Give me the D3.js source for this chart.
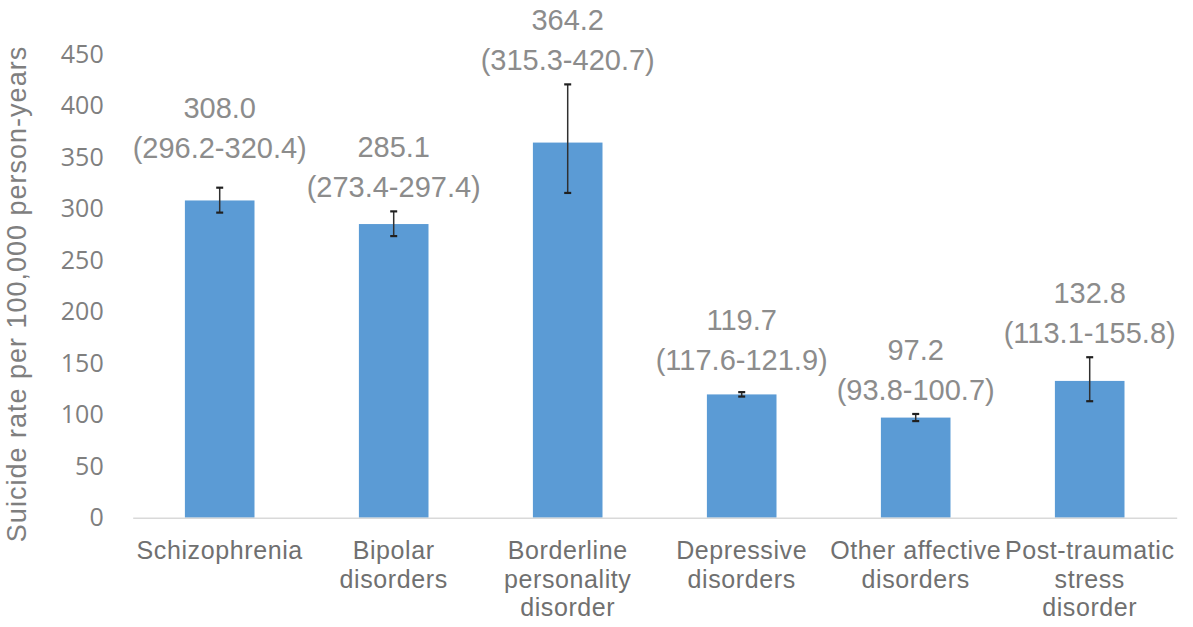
<!DOCTYPE html>
<html>
<head>
<meta charset="utf-8">
<script src="https://cdn.jsdelivr.net/npm/d3@7"></script>
<style>
body { margin:0; background:#fff; }
</style>
</head>
<body>
<div id="chart"></div>
<script>
// Data
const categories = ["Schizophrenia", "Bipolar disorders", "Borderline personality disorder",
  "Depressive disorders", "Other affective disorders", "Post-traumatic stress disorder"];
const categoryLines = [
  ["Schizophrenia"],
  ["Bipolar", "disorders"],
  ["Borderline", "personality", "disorder"],
  ["Depressive", "disorders"],
  ["Other affective", "disorders"],
  ["Post-traumatic", "stress", "disorder"]
];
const rates = [308.0, 285.1, 364.2, 119.7, 97.2, 132.8];
const ciLow = [296.2, 273.4, 315.3, 117.6, 93.8, 113.1];
const ciHigh = [320.4, 297.4, 420.7, 121.9, 100.7, 155.8];
const yTicks = [0, 50, 100, 150, 200, 250, 300, 350, 400, 450];

// labels were dragged by hand in the original, small nudges (px)
const labelNudge = [16, 0, 0, 8, 0, 0];

// Chart size
const W = 1193, H = 627;
const margin = {top:54.2, right:16.3, bottom:109.3, left:132.7};
const width = W - margin.left - margin.right;
const height = H - margin.top - margin.bottom;

const rows = categories.map((c, i) => ({
  cat: c, lines: categoryLines[i], v: rates[i], lo: ciLow[i], hi: ciHigh[i], nudge: labelNudge[i]
}));

const svg = d3.select("#chart").append("svg")
  .attr("width", W).attr("height", H);

const g = svg.append("g")
  .attr("transform", `translate(${margin.left},${margin.top})`);

// X scale
const x = d3.scaleBand()
  .domain(categories)
  .range([0, width])
  .paddingInner(0.6)
  .paddingOuter(0.3);

// Y scale
const y = d3.scaleLinear()
  .domain([0, 450])
  .range([height, 0]);

// Y axis (labels only)
const yAx = g.append("g")
  .call(d3.axisLeft(y).tickValues(yTicks).tickSize(0).tickPadding(29));
yAx.select(".domain").remove();
yAx.selectAll("text")
  .attr("font-family", "'Open Sans', sans-serif")
  .attr("font-size", 25)
  .attr("fill", "#7f7f7f");

// Bars
g.selectAll(".bar")
  .data(rows)
  .enter()
  .append("rect")
  .attr("class", "bar")
  .attr("x", d => x(d.cat))
  .attr("y", d => y(d.v))
  .attr("width", x.bandwidth())
  .attr("height", d => height - y(d.v))
  .attr("fill", "#5b9bd5");

// X axis
const xAx = g.append("g")
  .attr("transform", `translate(0,${height})`)
  .call(d3.axisBottom(x).tickSize(0).tickPadding(0));
xAx.select(".domain")
  .attr("stroke", "#d9d9d9")
  .attr("stroke-width", 1.5);
xAx.selectAll(".tick text").each(function(d, i) {
  const t = d3.select(this);
  t.text(null)
    .attr("y", 0)
    .attr("dy", null)
    .attr("font-family", "'Liberation Sans', Arial, sans-serif")
    .attr("font-size", 25)
    .attr("letter-spacing", 0.6)
    .attr("fill", "#707070");
  categoryLines[i].forEach((ln, k) => {
    t.append("tspan")
      .attr("x", 0)
      .attr("y", 41.6 + k * 28.5)
      .text(ln);
  });
});

// Error bars
const eb = g.selectAll(".err")
  .data(rows)
  .enter()
  .append("g")
  .attr("class", "err")
  .attr("transform", d => `translate(${x(d.cat) + x.bandwidth() / 2},0)`);
eb.append("line")
  .attr("y1", d => y(d.lo)).attr("y2", d => y(d.hi))
  .attr("stroke", "#303030").attr("stroke-width", 1.5);
eb.append("line")
  .attr("x1", -3.5).attr("x2", 3.5)
  .attr("y1", d => y(d.lo)).attr("y2", d => y(d.lo))
  .attr("stroke", "#202020").attr("stroke-width", 2.2);
eb.append("line")
  .attr("x1", -3.5).attr("x2", 3.5)
  .attr("y1", d => y(d.hi)).attr("y2", d => y(d.hi))
  .attr("stroke", "#202020").attr("stroke-width", 2.2);

// Data labels
const lab = g.selectAll(".lab")
  .data(rows)
  .enter()
  .append("text")
  .attr("class", "lab")
  .attr("text-anchor", "middle")
  .attr("font-family", "'Liberation Sans', Arial, sans-serif")
  .attr("font-size", 29)
  .attr("fill", "#8c8c8c");
lab.append("tspan")
  .attr("x", d => x(d.cat) + x.bandwidth() / 2)
  .attr("y", d => y(d.hi) - 24 - d.nudge - 40 + 10)
  .text(d => d.v.toFixed(1));
lab.append("tspan")
  .attr("x", d => x(d.cat) + x.bandwidth() / 2)
  .attr("y", d => y(d.hi) - 24 - d.nudge + 10)
  .text(d => `(${d.lo.toFixed(1)}-${d.hi.toFixed(1)})`);

// Y axis title
svg.append("text")
  .attr("transform", `translate(26,294) rotate(-90)`)
  .attr("text-anchor", "middle")
  .attr("font-family", "'Liberation Sans', Arial, sans-serif")
  .attr("font-size", 27)
  .attr("letter-spacing", 1)
  .attr("fill", "#7f7f7f")
  .text("Suicide rate per 100,000 person-years");
</script>
</body>
</html>
